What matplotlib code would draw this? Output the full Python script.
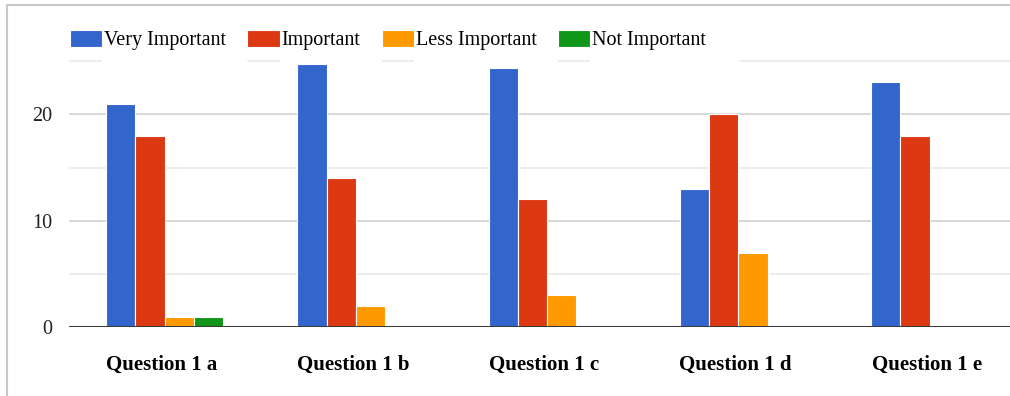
import matplotlib.pyplot as plt
import matplotlib.transforms as mtransforms
from matplotlib.lines import Line2D
import numpy as np

plt.rcParams['font.family'] = ['Liberation Serif', 'DejaVu Serif']

questions = ['Question 1 a', 'Question 1 b', 'Question 1 c', 'Question 1 d', 'Question 1 e']
series_names = ['Very Important', 'Important', 'Less Important', 'Not Important']
very_important = [21, 24.7, 24.3, 13, 23]
important = [18, 14, 12, 20, 18]
less_important = [1, 2, 3, 7, 0]
not_important = [1, 0, 0, 0, 0]
colors = ['#3366CC', '#DC3912', '#FF9900', '#109618']

W, H = 1010, 396
fig = plt.figure(figsize=(W / 100, H / 100), dpi=100)
ax = fig.add_axes([69 / W, 68.7 / H, (W - 69) / W, 266.3 / H])

x = np.arange(len(questions))
bw = 0.153
all_series = [very_important, important, less_important, not_important]
for i, (vals, c, name) in enumerate(zip(all_series, colors, series_names)):
    ax.bar(x + (i - 1.5) * bw, vals, width=bw, color=c, edgecolor='white',
           linewidth=0.8, label=name, zorder=3)

ax.set_xlim(-0.5, 4.42)
ax.set_ylim(0, 25)

# gridlines (the top one is drawn later, broken around the legend text)
for y in [5, 15]:
    ax.axhline(y, color='#ececec', linewidth=1.3, zorder=1)
for y in [10, 20]:
    ax.axhline(y, color='#d6d6d6', linewidth=1.3, zorder=1)
ax.axhline(0, color='#3a3a3a', linewidth=2.2, zorder=4)

for s in ax.spines.values():
    s.set_visible(False)
ax.set_yticks([0, 10, 20])
ax.tick_params(axis='y', length=0, labelsize=14.5, pad=12, colors='#222222')
ax.set_xticks(x)
ax.set_xticklabels(questions, fontweight='bold', fontsize=15)
ax.tick_params(axis='x', length=0, pad=20)
offset = mtransforms.ScaledTranslation(-3 / 100, 0, fig.dpi_scale_trans)
for lbl in ax.get_xticklabels():
    lbl.set_transform(lbl.get_transform() + offset)

leg = ax.legend(loc='center left', bbox_to_anchor=(70 / W, 1 - 40 / H),
                bbox_transform=fig.transFigure, ncol=4, frameon=False,
                fontsize=14.5, handlelength=1.6, handleheight=0.9,
                handletextpad=0.1, columnspacing=1.05, borderaxespad=0,
                borderpad=0)

# top gridline: visible under the legend swatches and to the right of the legend
fig.canvas.draw()
inv = ax.transData.inverted()
spans = []
for h in leg.legend_handles:
    bb = h.get_window_extent()
    spans.append((inv.transform((bb.x0, 0))[0], inv.transform((bb.x1, 0))[0]))
spans[0] = (ax.get_xlim()[0], spans[0][1])
last_text = leg.get_texts()[-1].get_window_extent()
spans.append((inv.transform((last_text.x1 + 34, 0))[0], ax.get_xlim()[1]))
for x0, x1 in spans:
    ax.hlines(25, x0, x1, color='#ececec', linewidth=1.3, zorder=1, clip_on=False)

# outer frame on the left and top
fig.add_artist(Line2D([7 / W, 7 / W], [0, 1 - 5 / H], transform=fig.transFigure,
                      color='#c8c8c8', linewidth=1.5))
fig.add_artist(Line2D([7 / W, 1], [1 - 5 / H, 1 - 5 / H], transform=fig.transFigure,
                      color='#c8c8c8', linewidth=1.5))

fig.savefig('out.png', dpi=100)
